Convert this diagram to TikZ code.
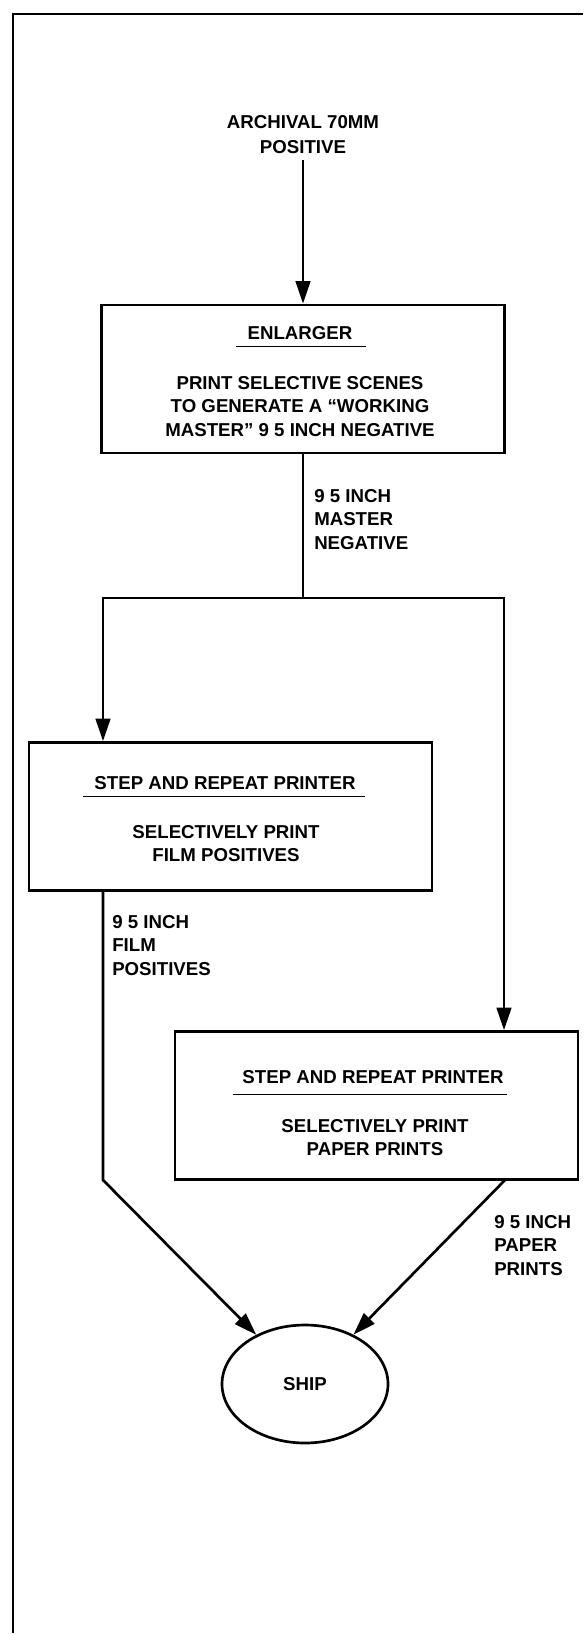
\documentclass[tikz,border=0pt]{standalone}
\usepackage{fontspec}
\setmainfont{Liberation Sans}
\usetikzlibrary{arrows.meta,shapes.geometric,calc}
\begin{document}
\begin{tikzpicture}[x=0.75pt,y=-0.75pt,
  every node/.style={font=\fontsize{14pt}{17.5pt}\selectfont\bfseries},
  ln/.style={line width=2pt},
  arr/.style={ln,-{Triangle[length=17pt,width=11pt]}},
  procbox/.style={draw,ln,rectangle,minimum width=302.25pt,minimum height=111pt,inner sep=0pt},
  ttl/.style={inner sep=0pt,anchor=center},
  body/.style={align=center,inner sep=0pt},
  lab/.style={align=left,anchor=west,inner sep=0pt},
  uline/.style={line width=1.3pt}]
\useasboundingbox (0,0) rectangle (583,1635);
% frame
\coordinate (fb) at (13,1633);
\coordinate (fc) at (13,14);
\coordinate (fr) at (583,14);
\draw[ln] (fb) -- (fc) -- (fr);

% source
\node[align=center,inner sep=4.5pt] (src) at (303,134.5) {ARCHIVAL 70MM\\[1.5pt]POSITIVE};

% enlarger
\node[procbox] (enl) at (303,379) {};
\node[ttl] (enlT) at (300,333) {ENLARGER};
\draw[uline] ($(enlT.base west)+(-11,7)$) -- ($(enlT.base east)+(13,7)$);
\node[body] (enlB) at (300,406.5) {PRINT SELECTIVE SCENES\\TO GENERATE A “WORKING\\MASTER” 9 5 INCH NEGATIVE};

% left box
\node[procbox] (boxA) at (230.5,816.5) {};
\node[ttl] (boxAT) at (225,783) {STEP AND REPEAT PRINTER};
\draw[uline] ($(boxAT.base west)+(-11,7)$) -- ($(boxAT.base east)+(9,7)$);
\node[body] (boxAB) at (226,843.5) {SELECTIVELY PRINT\\FILM POSITIVES};

% right box
\node[procbox] (boxB) at (376.5,1105.5) {};
\node[ttl] (boxBT) at (373,1077) {STEP AND REPEAT PRINTER};
\draw[uline] ($(boxBT.base west)+(-9,11)$) -- ($(boxBT.base east)+(3,11)$);
\node[body] (boxBB) at (375,1137.5) {SELECTIVELY PRINT\\PAPER PRINTS};

% ship
\node[draw,ln,ellipse,minimum width=124.5pt,minimum height=88.5pt,inner sep=0pt] (ship) at (305,1384) {SHIP};

% labels
\node[lab] (lab1) at (314,519.5) {9 5 INCH\\MASTER\\NEGATIVE};
\node[lab] (lab2) at (112,945.5) {9 5 INCH\\FILM\\POSITIVES};
\node[lab] (lab3) at (494,1245.5) {9 5 INCH\\PAPER\\PRINTS};

% connectors
\coordinate (bl) at (103,598);
\coordinate (brr) at (504,598);
\coordinate (cl) at (103,1180);
\coordinate (cr) at (505,1180);
\draw[arr] (src.south) -- (enl.north);
\draw[arr] (enl.south) |- (bl) -- (bl |- boxA.north);
\draw[arr] (enl.south |- bl) -- (brr) -- (brr |- boxB.north);
\draw[arr] (bl |- boxA.south) -- (cl) -- (ship);
\draw[arr] (cr) -- (ship);
\end{tikzpicture}
\end{document}
